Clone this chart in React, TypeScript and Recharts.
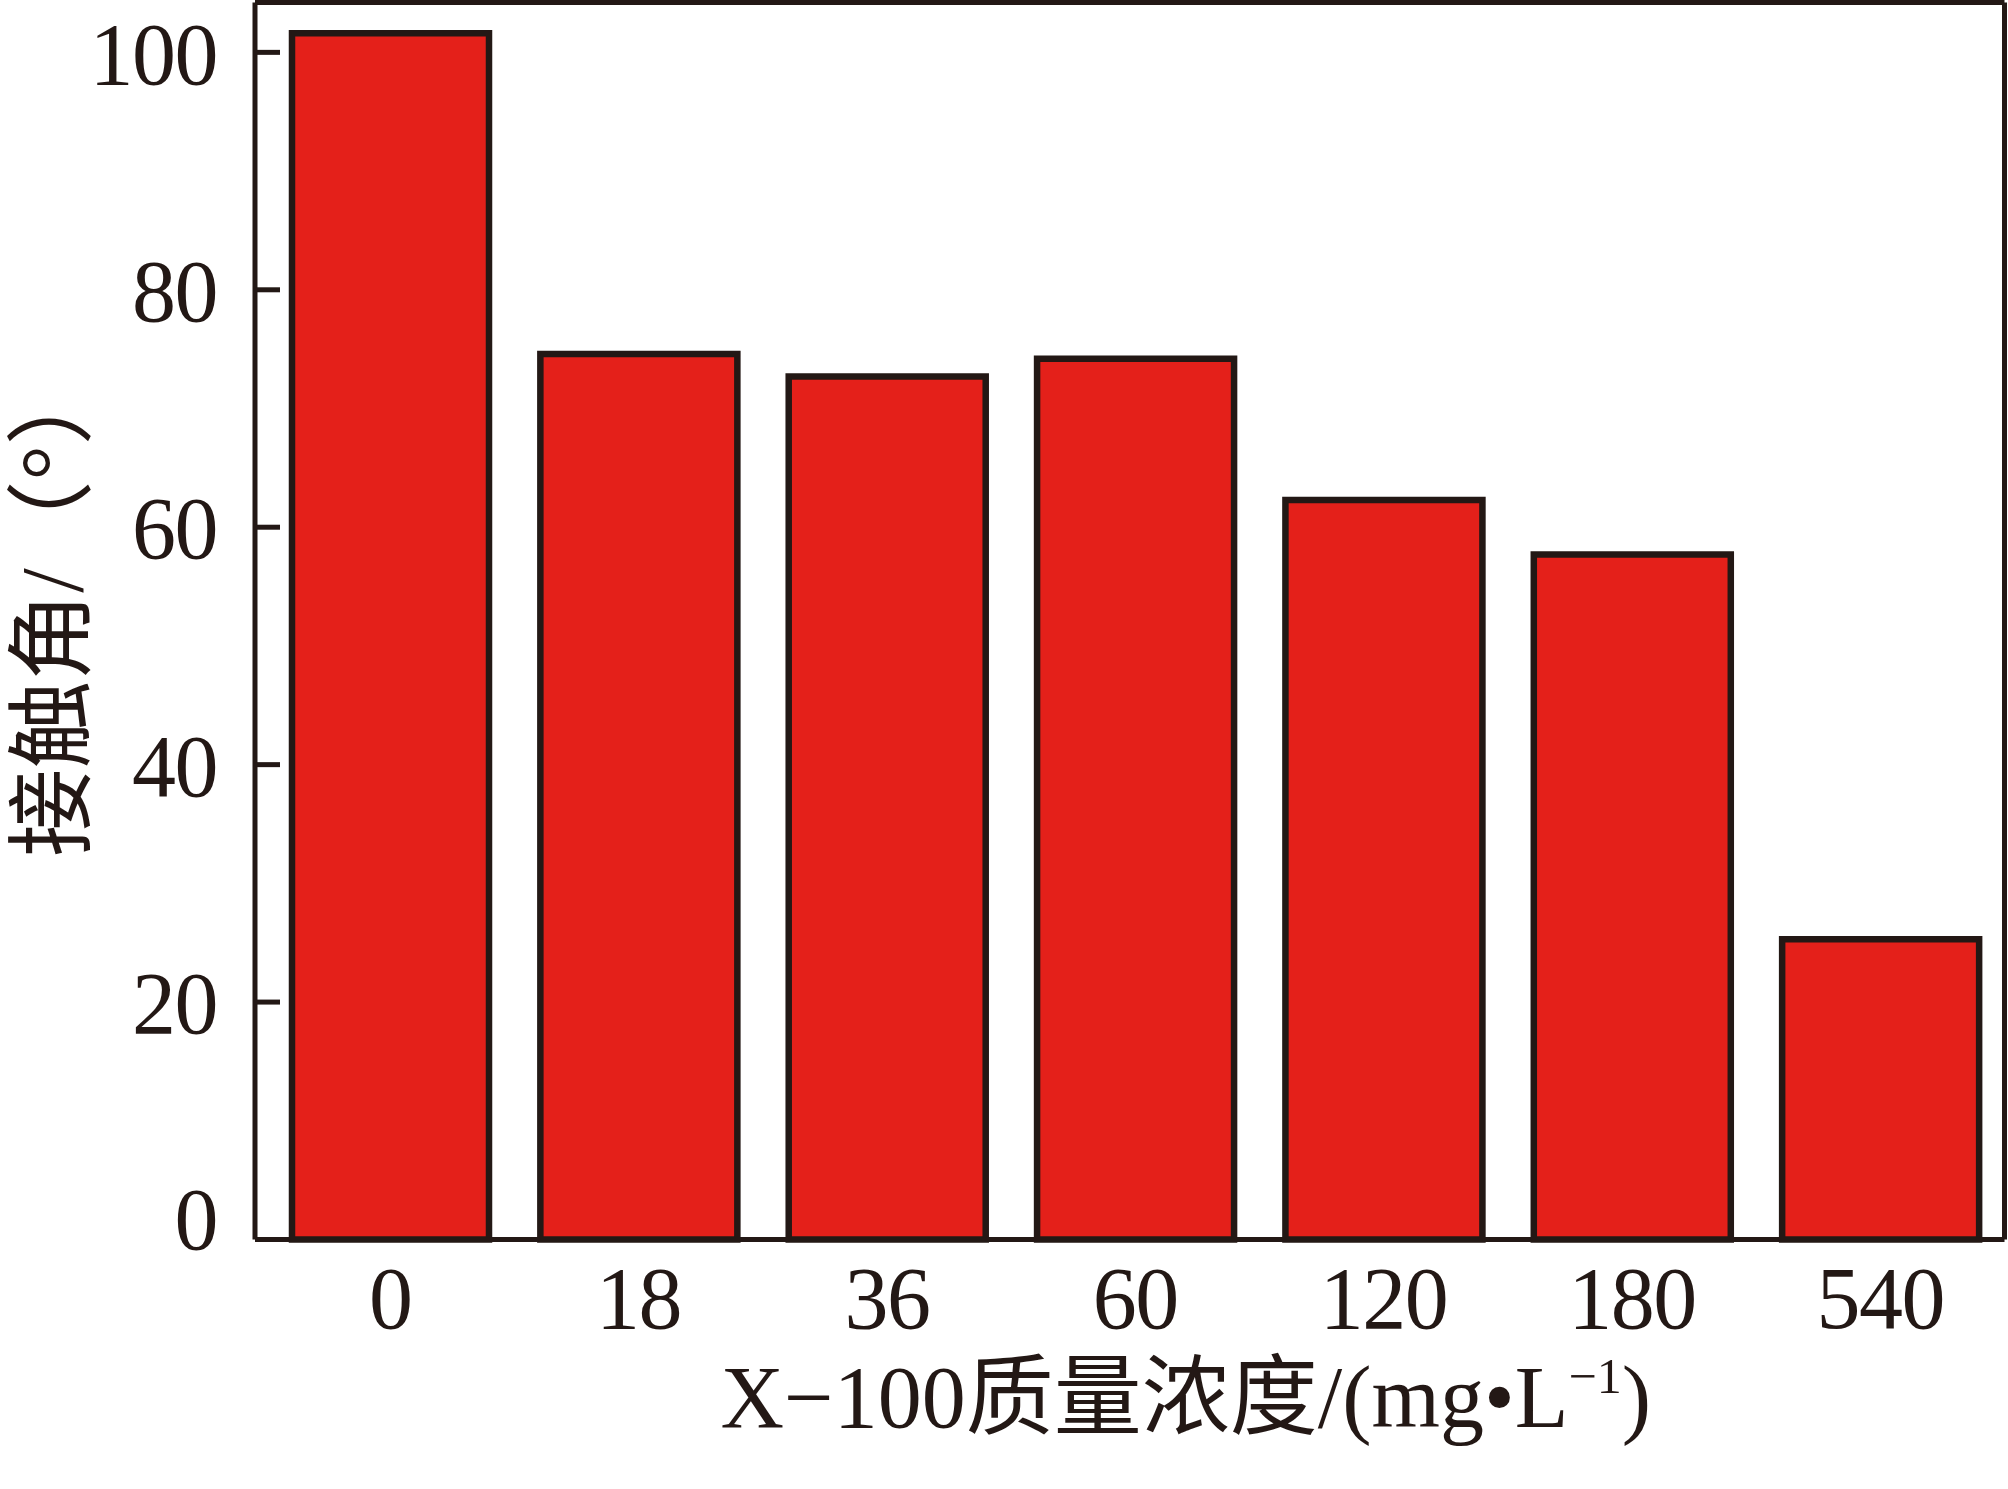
import React from 'react';
import { BarChart, Bar, XAxis, YAxis, Label } from 'recharts';

// X-100 concentration (mg/L) and contact angle (degrees)
const concentrations = ['0', '18', '36', '60', '120', '180', '540'];
const contactAngles = [101.6, 74.6, 72.7, 74.2, 62.3, 57.7, 25.3];
const yTicks = [0, 20, 40, 60, 80, 100];
const yDomain = [0, 104.2];

const INK = '#231815';
const RED = '#E4201A';
const FONT = '"Liberation Serif", "Times New Roman", "Noto Sans CJK SC", serif';

const data = concentrations.map((name, i) => ({ name, angle: contactAngles[i] }));

const YTick: React.FC<any> = ({ x, y, payload }) => {
    // the 0 label sits just above the base line in the original
    const shift = payload.value === 0 ? -22 : 0;
    return (
        <g>
            <line x1={x} y1={y} x2={x + 25} y2={y} stroke={INK} strokeWidth={5} />
            <text x={x - 38} y={y + shift} dy="0.355em" textAnchor="end" fontSize={88} letterSpacing={-1.5} fill={INK} fontFamily={FONT}>
                {payload.value}
            </text>
        </g>
    );
};

const XTick: React.FC<any> = ({ x, y, payload }) => (
    <text x={x} y={y + 57} dy="0.355em" textAnchor="middle" fontSize={88} letterSpacing={-1.5} fill={INK} fontFamily={FONT}>
        {payload.value}
    </text>
);

const XTitle = (props: any) => {
    const { x, y, width } = props.viewBox;
    return (
        <text x={x + width / 2 + 56} y={y + 187} textAnchor="middle" fontSize={88} fill={INK} fontFamily={FONT}>
            X−100质量浓度/(mg•L
            <tspan fontSize={50} dy={-34}>−1</tspan>
            <tspan fontSize={88} dy={34}>)</tspan>
        </text>
    );
};

const YTitle = (props: any) => {
    const { y, height } = props.viewBox;
    const cx = 52;
    const cy = y + height / 2 - 14;
    return (
        <text
            x={cx}
            y={cy}
            transform={`rotate(-90 ${cx} ${cy})`}
            textAnchor="middle"
            dominantBaseline="central"
            fontSize={88}
            fill={INK}
            fontFamily={FONT}
        >
            接触角/（°）
        </text>
    );
};

const App: React.FC = () => {
    return (
        <div style={{ position: 'absolute', left: 0, top: 0, background: '#fff' }}>
            <BarChart
                width={2008}
                height={1489}
                data={data}
                margin={{ top: 0, right: 0, left: 0, bottom: 0 }}
            >
                <XAxis
                    dataKey="name"
                    height={249.5}
                    padding={{ left: 11, right: 0 }}
                    tickSize={0}
                    tickMargin={0}
                    tickLine={false}
                    axisLine={{ stroke: INK, strokeWidth: 5 }}
                    tick={<XTick />}
                    interval={0}
                >
                    <Label content={XTitle} />
                </XAxis>
                <XAxis
                    xAxisId="top"
                    orientation="top"
                    dataKey="name"
                    height={2.5}
                    padding={{ left: 11, right: 0 }}
                    tickSize={0}
                    tick={false}
                    tickLine={false}
                    axisLine={{ stroke: INK, strokeWidth: 5 }}
                />
                <YAxis
                    width={255}
                    domain={yDomain}
                    ticks={yTicks}
                    tickSize={0}
                    tickMargin={0}
                    tickLine={false}
                    axisLine={{ stroke: INK, strokeWidth: 5 }}
                    tick={<YTick />}
                    interval={0}
                >
                    <Label content={YTitle} />
                </YAxis>
                <YAxis
                    yAxisId="right"
                    orientation="right"
                    width={3.5}
                    domain={yDomain}
                    tickSize={0}
                    tick={false}
                    tickLine={false}
                    axisLine={{ stroke: INK, strokeWidth: 5 }}
                />
                {/* invisible series so the top / right frame axes get drawn */}
                <Bar
                    xAxisId="top"
                    yAxisId="right"
                    dataKey="angle"
                    fill="none"
                    stroke="none"
                    barSize={197}
                    isAnimationActive={false}
                />
                <Bar
                    dataKey="angle"
                    fill={RED}
                    stroke={INK}
                    strokeWidth={6.5}
                    barSize={197}
                    isAnimationActive={false}
                />
            </BarChart>
        </div>
    );
};

export default App;
